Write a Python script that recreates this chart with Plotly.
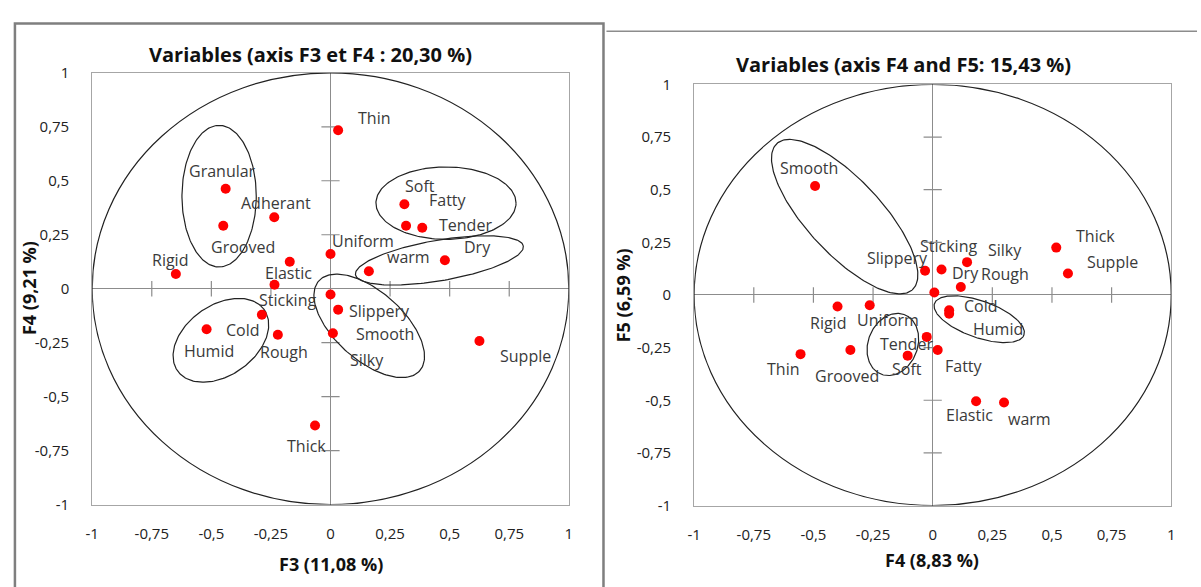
import numpy as np
import plotly.graph_objects as go

W, H = 1201, 587

# ---------------- data: F3 / F4 correlation circle ----------------
names_34 = ["Thin", "Granular", "Adherant", "Grooved", "Rigid", "Elastic", "Uniform",
            "Sticking", "Soft", "Fatty", "Tender", "warm", "Dry", "Cold", "Humid",
            "Rough", "Slippery", "Smooth", "Silky", "Supple", "Thick"]
f3 = [0.032, -0.44, -0.236, -0.45, -0.649, -0.171, 0.0,
      -0.235, 0.31, 0.317, 0.385, 0.161, 0.48, -0.288, -0.52,
      -0.221, 0.0, 0.032, 0.01, 0.625, -0.065]
f4_a = [0.734, 0.463, 0.331, 0.292, 0.068, 0.125, 0.161,
        0.018, 0.391, 0.292, 0.282, 0.081, 0.132, -0.121, -0.188,
        -0.213, -0.027, -0.097, -0.206, -0.242, -0.634]

# ---------------- data: F4 / F5 correlation circle ----------------
names_45 = ["Smooth", "Slippery", "Sticking", "Silky", "Dry", "Rough", "Cold", "Humid",
            "Rigid", "Uniform", "Thin", "Grooved", "Tender", "Soft", "Fatty",
            "Elastic", "warm", "Thick", "Supple"]
f4_b = [-0.493, -0.032, 0.037, 0.144, 0.007, 0.118, 0.069, 0.069,
        -0.399, -0.264, -0.554, -0.345, -0.025, -0.105, 0.021,
        0.182, 0.299, 0.518, 0.567]
f5 = [0.518, 0.115, 0.121, 0.156, 0.012, 0.038, -0.073, -0.089,
      -0.055, -0.049, -0.281, -0.261, -0.199, -0.288, -0.261,
      -0.505, -0.511, 0.225, 0.102]

tick_vals = [-1, -0.75, -0.5, -0.25, 0, 0.25, 0.5, 0.75, 1]
tick_text = [f"{v:g}".replace(".", ",") for v in tick_vals]

# label offsets in screen pixels (dx right, dy down) from each point
label_off_34 = [(36, -12), (-3, -18), (2, -14), (20, 21), (-6, -14), (-1, 11), (32, -13),
                (13, 15), (16, -18), (42, -26), (43, -3), (40, -14), (33, -13), (-19, 15),
                (2, 22), (6, 17), (49, 16), (47, 24), (34, 27), (46, 15), (-9, 20)]
label_off_45 = [(-6, -18), (-28, -13), (7, -24), (38, -12), (31, -19), (44, -13), (32, -4),
                (49, 15), (-10, 16), (18, 15), (-18, 15), (-3, 26), (-20, 7), (-1, 13),
                (26, 16), (-7, 14), (25, 16), (39, -12), (45, -12)]

# hand-drawn grouping ellipses: centre (data), semi-axes (px), tilt (deg)
ellipses_34 = [(-0.4675, 0.4286, 37.5, 73.3, 0), (0.4846, 0.3964, 70.7, 37.5, 0),
               (0.457, 0.131, 86, 21, 10), (0.1625, -0.172, 69, 35, -43),
               (-0.460, -0.239, 54, 36, 37)]
ellipses_45 = [(-0.369, 0.372, 102, 38, -48), (0.195, -0.115, 48, 19, -20),
               (-0.167, -0.235, 33, 25, 70)]

# plot-area geometry (pixels)
box_34 = dict(left=86, right=567, top=64, bottom=511)
box_45 = dict(left=693.5, right=1175, top=76, bottom=512)

FONT = "Open Sans"
RED = "#ff0000"
LABEL_COL = "#3a3a3a"

fig = go.Figure()


def axis_common(domain, anchor, is_x):
    d = dict(domain=domain, anchor=anchor, range=[-1, 1], tickmode="array",
             tickvals=tick_vals, ticktext=tick_text, showgrid=False,
             zeroline=True, zerolinecolor="#8c8c8c", zerolinewidth=1.3,
             showline=True, mirror=True, linecolor="#a6a6a6", linewidth=1,
             ticks="", tickfont=dict(family=FONT, size=15, color="#222"),
             fixedrange=True)
    d["ticklabelstandoff"] = 15 if is_x else 19
    return d


def add_panel(xs, ys, names, offs, ells, box, xa, ya):
    pxu = (box["right"] - box["left"]) / 2.0
    pyu = (box["bottom"] - box["top"]) / 2.0
    # unit circle
    fig.add_shape(type="circle", xref=xa, yref=ya, x0=-1, y0=-1, x1=1, y1=1,
                  line=dict(color="#222", width=1.2), layer="above")
    # cross ticks on the zero lines
    inner = [v for v in tick_vals if v not in (-1, 0, 1)]
    fig.add_trace(go.Scatter(x=inner, y=[0] * len(inner), xaxis=xa, yaxis=ya, mode="markers",
                             marker=dict(symbol="line-ns", size=11,
                                         line=dict(color="#8c8c8c", width=1.2)),
                             hoverinfo="skip", showlegend=False))
    fig.add_trace(go.Scatter(x=[0] * len(inner), y=inner, xaxis=xa, yaxis=ya, mode="markers",
                             marker=dict(symbol="line-ew", size=13,
                                         line=dict(color="#8c8c8c", width=1.2)),
                             hoverinfo="skip", showlegend=False))
    # grouping ellipses
    t = np.linspace(0, 2 * np.pi, 200)
    for cx, cy, a, b, ang in ells:
        th = np.radians(ang)
        u, v = a * np.cos(t), b * np.sin(t)
        du = u * np.cos(th) - v * np.sin(th)
        dv = u * np.sin(th) + v * np.cos(th)
        fig.add_trace(go.Scatter(x=cx + du / pxu, y=cy + dv / pyu, xaxis=xa, yaxis=ya,
                                 mode="lines", line=dict(color="#222", width=1.2),
                                 hoverinfo="skip", showlegend=False))
    # variables
    fig.add_trace(go.Scatter(x=xs, y=ys, xaxis=xa, yaxis=ya, mode="markers",
                             marker=dict(color=RED, size=10), text=names,
                             hoverinfo="text", showlegend=False))
    for x, y, n, (dx, dy) in zip(xs, ys, names, offs):
        fig.add_annotation(x=x, y=y, xref=xa, yref=ya, text=n, showarrow=False,
                           xshift=dx, yshift=-dy,
                           font=dict(family=FONT, size=16, color=LABEL_COL))


def pxx(p):
    return p / W


def pxy(p):
    return 1 - p / H


add_panel(f3, f4_a, names_34, label_off_34, ellipses_34, box_34, "x", "y")
add_panel(f4_b, f5, names_45, label_off_45, ellipses_45, box_45, "x2", "y2")

fig.update_layout(
    width=W, height=H, margin=dict(l=0, r=0, t=0, b=0),
    paper_bgcolor="white", plot_bgcolor="white", showlegend=False,
    xaxis=axis_common([pxx(box_34["left"]), pxx(box_34["right"])], "y", True),
    yaxis=axis_common([pxy(box_34["bottom"]), pxy(box_34["top"])], "x", False),
    xaxis2=axis_common([pxx(box_45["left"]), pxx(box_45["right"])], "y2", True),
    yaxis2=axis_common([pxy(box_45["bottom"]), pxy(box_45["top"])], "x2", False),
)

# titles and axis titles
texts = [
    ("Variables (axis F3 et F4 : 20,30 %)", 306, 45, 20, 0),
    ("Variables (axis F4 and F5: 15,43 %)", 905, 55, 20, 0),
    ("F3 (11,08 %)", 327, 573, 18, 0),
    ("F4 (9,21 %)", 22, 287, 18, -90),
    ("F4 (8,83 %)", 934, 568, 18, 0),
    ("F5 (6,59 %)", 622, 294, 18, -90),
]
for txt, x, y, size, rot in texts:
    fig.add_annotation(x=pxx(x), y=pxy(y), xref="paper", yref="paper", text=f"<b>{txt}</b>",
                       showarrow=False, textangle=rot, xanchor="center", yanchor="middle",
                       font=dict(family=FONT, size=size, color="#111"))

# outer frames
fig.add_shape(type="rect", xref="paper", yref="paper", x0=pxx(8), x1=pxx(602),
              y0=-0.05, y1=pxy(13), line=dict(color="#7f7f7f", width=2.5))
fig.add_shape(type="line", xref="paper", yref="paper", x0=pxx(605), x1=1.0,
              y0=pxy(21), y1=pxy(21), line=dict(color="#8c8c8c", width=1.5))

fig.write_html("out.html")
